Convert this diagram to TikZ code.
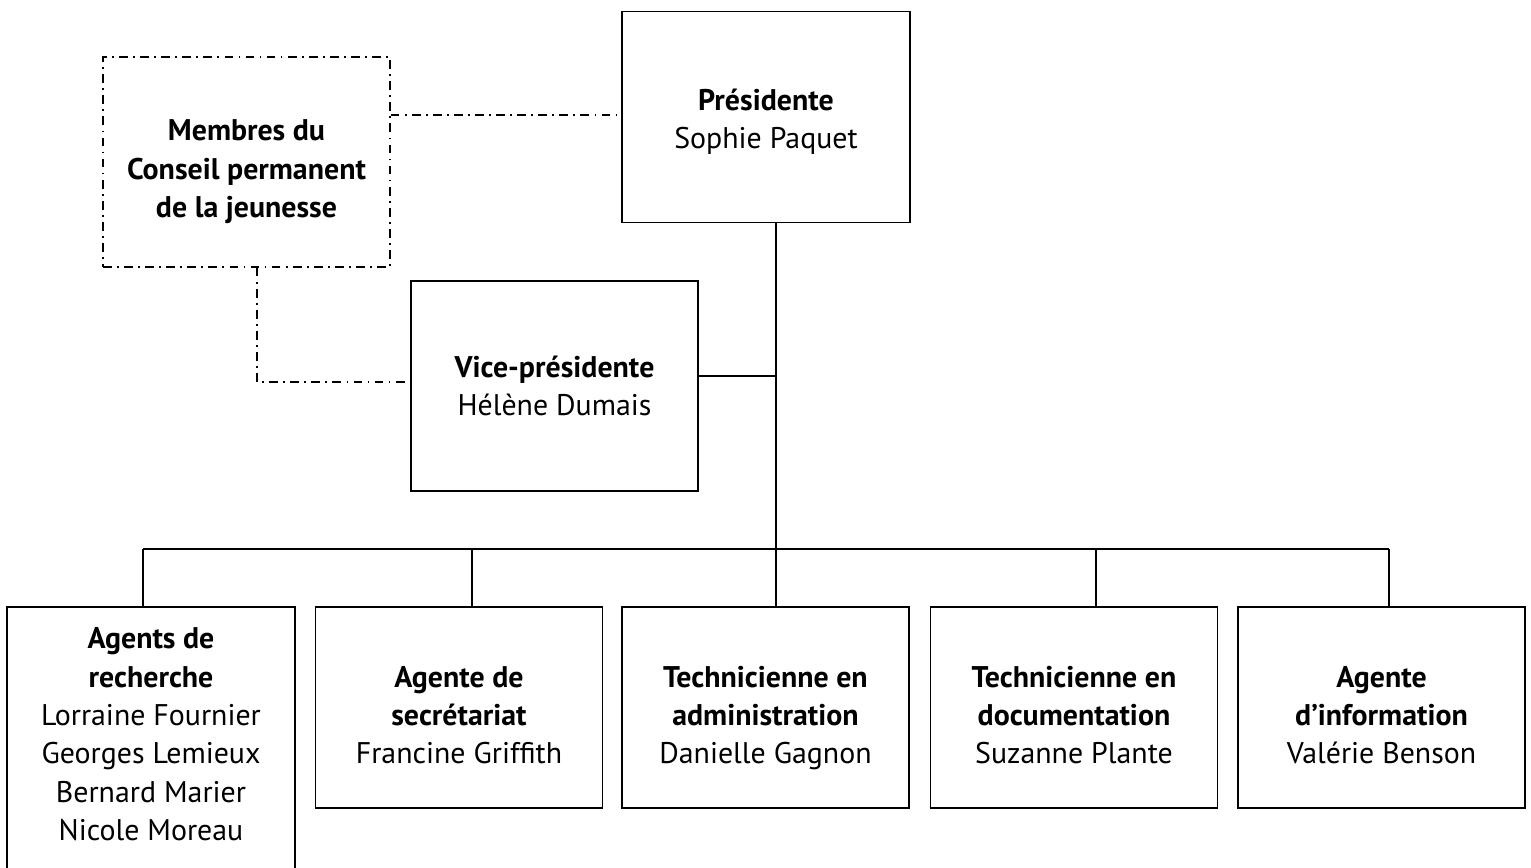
\documentclass[tikz,border=0pt]{standalone}
\usepackage{fontspec}
\setmainfont{PT Sans}
\usepackage{tikz}
\usetikzlibrary{positioning}

\begin{document}
\begin{tikzpicture}[
    unitbox/.style={draw, line width=1pt, align=center, inner sep=0pt,
        minimum width=5.74cm, minimum height=4.02cm,
        font=\fontsize{17}{21.8}\selectfont},
    conseilbox/.style={unitbox, solid, line width=.8pt,
        dash pattern=on 5pt off 3pt on 1pt off 3pt},
    link/.style={line width=1pt},
    dotlink/.style={line width=.8pt, dash pattern=on 5pt off 3pt on 1pt off 3pt}
]

\useasboundingbox (0,0) rectangle (30.62,17.34);
\clip (0,0) rectangle (30.62,17.34);

\node[unitbox, minimum width=5.76cm, minimum height=4.22cm, text height=36pt, text depth=0pt] (pres) at (15.32,15.00)%
{\textbf{Présidente}\\Sophie Paquet};
\node[conseilbox, minimum height=4.2cm, text height=63pt, text depth=0pt] (conseil) at (4.93,14.10)%
{\textbf{Membres du}\\\textbf{Conseil permanent}\\\textbf{de la jeunesse}};
\node[unitbox, minimum height=4.2cm] (vice) at (11.09,9.62)%
{\textbf{Vice-présidente}\\Hélène Dumais};

\node[unitbox, minimum width=5.76cm, minimum height=5.32cm, text depth=6.8pt] (rech) at (3.02,2.54)%
{\textbf{Agents de}\\\textbf{recherche}\\Lorraine Fournier\\Georges Lemieux\\Bernard Marier\\Nicole Moreau};
\node[unitbox, text height=64pt, text depth=0pt] (secr) at (9.18,3.19)%
{\textbf{Agente de}\\\textbf{secrétariat}\\Francine Griffith};
\node[unitbox, text height=64pt, text depth=0pt] (admin) at (15.31,3.19)%
{\textbf{Technicienne en}\\\textbf{administration}\\Danielle Gagnon};
\node[unitbox, text height=64pt, text depth=0pt] (docu) at (21.48,3.19)%
{\textbf{Technicienne en}\\\textbf{documentation}\\Suzanne Plante};
\node[unitbox, text height=64pt, text depth=0pt] (info) at (27.63,3.19)%
{\textbf{Agente}\\\textbf{d’information}\\Valérie Benson};

% tronc et barre
\coordinate (trunk) at (15.52,6.36);
\coordinate (barL) at (2.86,6.36);
\coordinate (barR) at (27.78,6.36);
\coordinate (viceL) at (15.52,9.82);
\coordinate (corner) at (5.14,9.70);

\draw[link] (trunk |- pres.south) -- (trunk);
\draw[link] (vice.east |- viceL) -- (viceL);
\draw[link] (barL) -- (barR);

\draw[link] (barL) -- (barL |- rech.north);
\draw[link] (9.44,6.36) -- (9.44,6.36 |- secr.north);
\draw[link] (trunk) -- (trunk |- admin.north);
\draw[link] (21.92,6.36) -- (21.92,6.36 |- docu.north);
\draw[link] (barR) -- (barR |- info.north);

% liens du conseil
\draw[dotlink] (conseil.east |- 0,15.04) -- (pres.west |- 0,15.04);
\draw[dotlink] (corner |- conseil.south) -- (corner) -- (vice.west |- corner);

\end{tikzpicture}
\end{document}
